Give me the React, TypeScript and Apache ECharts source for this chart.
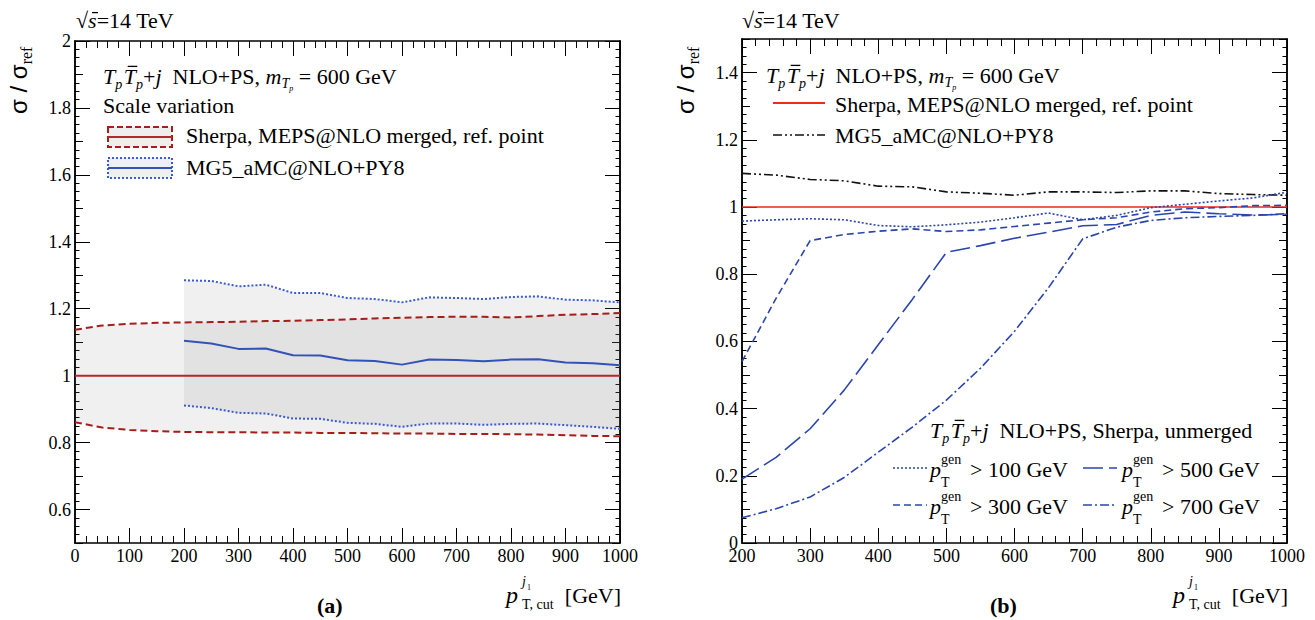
import React, { useEffect, useRef } from 'react';
import * as echarts from 'echarts';

// ---------- data ----------
const SHERPA_X = [0, 50, 100, 150, 200, 250, 300, 350, 400, 450, 500, 550, 600, 650, 700, 750, 800, 850, 900, 950, 1000];
const SHERPA_UP = [1.137, 1.150, 1.155, 1.158, 1.159, 1.160, 1.161, 1.163, 1.164, 1.166, 1.168, 1.171, 1.173, 1.175, 1.176, 1.176, 1.174, 1.178, 1.182, 1.184, 1.187];
const SHERPA_LO = [0.861, 0.845, 0.838, 0.834, 0.832, 0.831, 0.831, 0.830, 0.830, 0.829, 0.829, 0.828, 0.827, 0.827, 0.826, 0.826, 0.825, 0.824, 0.822, 0.820, 0.819];
const SHERPA_REF = [1, 1, 1, 1, 1, 1, 1, 1, 1, 1, 1, 1, 1, 1, 1, 1, 1, 1, 1, 1, 1];

const MG_X = [200, 250, 300, 350, 400, 450, 500, 550, 600, 650, 700, 750, 800, 850, 900, 950, 1000];
const MG_UP = [1.285, 1.283, 1.267, 1.272, 1.247, 1.247, 1.232, 1.229, 1.219, 1.234, 1.232, 1.229, 1.235, 1.237, 1.227, 1.225, 1.219];
const MG_MID = [1.104, 1.096, 1.080, 1.081, 1.061, 1.060, 1.046, 1.044, 1.033, 1.048, 1.047, 1.043, 1.048, 1.049, 1.039, 1.037, 1.031];
const MG_LO = [0.911, 0.903, 0.889, 0.887, 0.872, 0.871, 0.859, 0.856, 0.847, 0.857, 0.857, 0.853, 0.856, 0.857, 0.852, 0.847, 0.841];

const R_X = [200, 250, 300, 350, 400, 450, 500, 550, 600, 650, 700, 750, 800, 850, 900, 950, 1000];
const R_SHERPA = [1, 1, 1, 1, 1, 1, 1, 1, 1, 1, 1, 1, 1, 1, 1, 1, 1];
const R_MG5 = [1.100, 1.095, 1.082, 1.078, 1.062, 1.060, 1.045, 1.041, 1.035, 1.045, 1.045, 1.043, 1.048, 1.048, 1.040, 1.037, 1.035];
const R_PT100 = [0.958, 0.962, 0.965, 0.962, 0.945, 0.941, 0.947, 0.955, 0.968, 0.982, 0.962, 0.975, 0.998, 1.008, 1.018, 1.027, 1.044];
const R_PT300 = [0.540, 0.728, 0.900, 0.918, 0.928, 0.935, 0.927, 0.932, 0.942, 0.952, 0.962, 0.968, 0.985, 0.995, 0.998, 1.004, 1.005];
const R_PT500 = [0.190, 0.255, 0.340, 0.455, 0.590, 0.725, 0.865, 0.885, 0.907, 0.925, 0.944, 0.948, 0.975, 0.985, 0.980, 0.976, 0.978];
const R_PT700 = [0.075, 0.102, 0.137, 0.195, 0.270, 0.345, 0.425, 0.520, 0.630, 0.760, 0.905, 0.940, 0.960, 0.968, 0.972, 0.975, 0.980];

const LEFT_Y_LABELS = [0.6, 0.8, 1.0, 1.2, 1.4, 1.6, 1.8, 2.0];
const RIGHT_Y_LABELS = [0, 0.2, 0.4, 0.6, 0.8, 1.0, 1.2, 1.4];

// ---------- styles ----------
const SERIF = 'Liberation Serif';
const SANS = 'Liberation Sans';
const BLACK = '#000000';
const RED_DASH = '#a61e1a';
const RED_MID = '#b3282a';
const RED_R = '#f0281e';
const BLUE_MID = '#3352b8';
const BLUE_DOT = '#3b5bd0';
const BLUE_R = '#2a45ad';
const BAND = 'rgba(128,128,128,0.12)';

const DASH_100 = [2, 2];
const DASH_300 = [7, 4];
const DASH_500 = [20, 6];
const DASH_700 = [9, 3, 2, 3];
const DASH_MG5 = [9, 3, 2, 3, 2, 3];

let measureCtx: CanvasRenderingContext2D | null = null;
function measure(text: string, font: string): number {
  if (!measureCtx) measureCtx = document.createElement('canvas').getContext('2d');
  measureCtx!.font = font;
  return measureCtx!.measureText(text).width;
}

type Seg = { t: string; s?: number; it?: boolean; bold?: boolean; f?: string; dy?: number; bar?: number; abs?: number; noAdv?: boolean; c?: string };
function run(x0: number, base: number, segs: Seg[], color = BLACK): any[] {
  const out: any[] = [];
  let x = x0;
  for (const g of segs) {
    const s = g.s ?? 22;
    const f = g.f ?? SERIF;
    const fs = g.it ? 'italic' : 'normal';
    const fw = g.bold ? 'bold' : 'normal';
    const w = measure(g.t, `${fs} ${fw} ${s}px "${f}"`);
    const bx = g.abs ?? x;
    const by = base + (g.dy ?? 0);
    out.push({
      type: 'text', x: bx, y: by - 0.34 * s, silent: true,
      style: { text: g.t, fontSize: s, fontFamily: f, fontStyle: fs, fontWeight: fw, fill: g.c ?? color, align: 'left', verticalAlign: 'middle' },
    });
    if (g.bar) {
      out.push({ type: 'line', silent: true, shape: { x1: bx + 0.18 * s, y1: by - g.bar * s, x2: bx + w + 0.06 * s, y2: by - g.bar * s }, style: { stroke: g.c ?? color, lineWidth: 1.3 } });
    }
    if (!g.noAdv) x = bx + w;
  }
  return out;
}

const TT: Seg[] = [
  { t: 'T', it: true }, { t: 'p', it: true, s: 14, dy: 5 }, { t: ' ', s: 6 },
  { t: 'T', it: true, bar: 0.8 }, { t: 'p', it: true, s: 14, dy: 5 }, { t: '+' }, { t: 'j', it: true },
];

function sqrtS(x: number, base: number) {
  return run(x, base, [{ t: '√' }, { t: 's', it: true, bar: 0.7 }, { t: '=14 TeV' }]);
}

function title600(x: number, base: number) {
  return run(x, base, [...TT, { t: '  NLO+PS, ' }, { t: 'm', it: true }, { t: 'T', it: true, s: 14, dy: 4 }, { t: 'p', it: true, s: 8, dy: 7 }, { t: ' = 600 GeV' }]);
}

function yTitle(x: number, y: number) {
  return {
    type: 'group', x, y, rotation: Math.PI / 2, silent: true,
    children: run(0, 0, [{ t: 'σ / σ', s: 24, f: SANS }, { t: 'ref', s: 16, dy: 5 }]),
  };
}

function xTitle(R: number) {
  const gevW = measure(' [GeV]', `normal normal 22px "${SERIF}"`);
  const px = R - 114;
  return [
    ...run(px, 603, [{ t: 'p', it: true, s: 24 }]),
    ...run(px + 16, 586, [{ t: 'j', it: true, s: 14 }]),
    ...run(px + 21, 590, [{ t: '1', s: 8 }]),
    ...run(px + 16, 609, [{ t: 'T, cut', s: 14 }]),
    ...run(R + 1 - gevW, 603, [{ t: ' [GeV]' }]),
  ];
}

function ptLabel(x: number, base: number, val: string) {
  return run(x, base, [
    { t: 'p', it: true }, { t: 'gen', s: 14, dy: -12.5, noAdv: true }, { t: 'T', s: 14, dy: 10 },
    { t: `> ${val} GeV`, abs: x + 40 },
  ]);
}

function hline(x1: number, x2: number, y: number, color: string, width: number, dash?: number[]) {
  return { type: 'line', silent: true, shape: { x1, y1: y, x2, y2: y }, style: { stroke: color, lineWidth: width, lineDash: dash ?? null } };
}

// ---------- axes ----------
function xAxes(grid: number, min: number, max: number) {
  const common = {
    type: 'value', gridIndex: grid, min, max, interval: 100,
    splitLine: { show: false }, minorSplitLine: { show: false },
    axisLine: { show: true, onZero: false, lineStyle: { color: BLACK, width: 1.5 } },
    axisTick: { show: true, inside: true, length: 15, lineStyle: { color: BLACK, width: 1 } },
    minorTick: { show: true, splitNumber: 5, length: 7, lineStyle: { color: BLACK, width: 1 } },
  };
  return [
    { ...common, position: 'bottom', axisLabel: { show: true, color: BLACK, fontFamily: SERIF, fontSize: 18, margin: 4, formatter: (v: number) => String(v) } },
    { ...common, position: 'top', axisLabel: { show: false } },
  ];
}

function yAxes(grid: number, min: number, max: number, labels: number[]) {
  const base = {
    type: 'value', gridIndex: grid, min, max,
    splitLine: { show: false }, minorSplitLine: { show: false },
    axisLine: { show: true, onZero: false, lineStyle: { color: BLACK, width: 1.5 } },
  };
  const main = (pos: string) => ({
    ...base, position: pos, interval: 0.1,
    axisTick: { show: true, inside: true, length: 8, lineStyle: { color: BLACK, width: 1 } },
    minorTick: { show: true, splitNumber: 4, length: 4.5, lineStyle: { color: BLACK, width: 1 } },
    axisLabel: { show: false },
  });
  const major = (pos: string, show: boolean) => ({
    ...base, position: pos,
    axisTick: { show: true, inside: true, length: 15, customValues: labels, lineStyle: { color: BLACK, width: 1 } },
    axisLabel: { show, customValues: labels, color: BLACK, fontFamily: SERIF, fontSize: 18, margin: 4, formatter: (v: number) => String(Math.round(v * 10) / 10) },
  });
  return [main('left'), major('left', true), main('right'), major('right', false)];
}

// ---------- series ----------
function band(xs: number[], up: number[], lo: number[], xi: number, yi: number, fill: string) {
  return {
    type: 'custom', coordinateSystem: 'cartesian2d', xAxisIndex: xi, yAxisIndex: yi, silent: true, z: 1,
    data: [[xs[0], up[0]]],
    renderItem: (_p: any, api: any) => {
      const top = xs.map((x, i) => api.coord([x, up[i]]));
      const bot = xs.map((x, i) => api.coord([x, lo[i]])).reverse();
      return { type: 'polygon', shape: { points: top.concat(bot) }, style: { fill } };
    },
  };
}

function line(xs: number[], ys: number[], xi: number, yi: number, color: string, width: number, dash?: number[], z = 3) {
  return {
    type: 'line', xAxisIndex: xi, yAxisIndex: yi, data: xs.map((x, i) => [x, ys[i]]),
    showSymbol: false, symbol: 'none', silent: true, z, clip: true, smooth: false,
    lineStyle: { color, width, type: dash ?? 'solid', cap: 'butt' },
    emphasis: { disabled: true },
  };
}

export default function App() {
  const ref = useRef<HTMLDivElement>(null);
  useEffect(() => {
    if (!ref.current) return;
    const chart = echarts.init(ref.current, null, { renderer: 'svg' });
    const LR = 620, RR = 1287;
    const graphics: any[] = [
      // left panel
      ...sqrtS(76, 28),
      yTitle(27, 114),
      ...title600(103, 84),
      ...run(103, 113, [{ t: 'Scale variation' }]),
      { type: 'rect', silent: true, shape: { x: 108, y: 127, width: 64, height: 20 }, style: { fill: '#eeeeee', stroke: RED_DASH, lineWidth: 2, lineDash: [6, 3] } },
      hline(108, 172, 137, RED_MID, 2),
      ...run(186, 143, [{ t: 'Sherpa, MEPS@NLO merged, ref. point' }]),
      { type: 'rect', silent: true, shape: { x: 108, y: 158, width: 64, height: 20 }, style: { fill: '#eeeff2', stroke: BLUE_DOT, lineWidth: 2, lineDash: [2, 2] } },
      hline(108, 172, 168, BLUE_MID, 2),
      ...run(186, 175, [{ t: 'MG5_aMC@NLO+PY8' }]),
      ...run(317, 613, [{ t: '(a)', bold: true }]),
      ...xTitle(LR),
      // right panel
      ...sqrtS(742, 28),
      yTitle(694, 114),
      ...title600(766, 83),
      hline(773, 825, 103, RED_R, 2),
      ...run(835, 112, [{ t: 'Sherpa, MEPS@NLO merged, ref. point' }]),
      hline(773, 825, 135, '#111111', 1.6, DASH_MG5),
      ...run(835, 143, [{ t: 'MG5_aMC@NLO+PY8' }]),
      ...run(930, 438, [...TT, { t: '  NLO+PS, Sherpa, unmerged' }]),
      hline(893, 927, 468, BLUE_R, 1.6, DASH_100),
      ...ptLabel(930, 477, '100'),
      hline(1083, 1117, 468, BLUE_R, 1.6, DASH_500),
      ...ptLabel(1122, 477, '500'),
      hline(893, 927, 505, BLUE_R, 1.6, DASH_300),
      ...ptLabel(930, 514, '300'),
      hline(1083, 1117, 505, BLUE_R, 1.6, DASH_700),
      ...ptLabel(1122, 514, '700'),
      ...run(990, 613, [{ t: '(b)', bold: true }]),
      ...xTitle(RR),
    ];

    chart.setOption({
      animation: false,
      backgroundColor: '#ffffff',
      grid: [
        { left: 75, top: 41, width: 545, height: 502, outerBoundsMode: 'none', containLabel: false },
        { left: 742, top: 39, width: 545, height: 504, outerBoundsMode: 'none', containLabel: false },
      ],
      xAxis: [...xAxes(0, 0, 1000), ...xAxes(1, 200, 1000)],
      yAxis: [...yAxes(0, 0.5, 2.0, LEFT_Y_LABELS), ...yAxes(1, 0, 1.5, RIGHT_Y_LABELS)],
      series: [
        band(SHERPA_X, SHERPA_UP, SHERPA_LO, 0, 0, BAND),
        band(MG_X, MG_UP, MG_LO, 0, 0, BAND),
        line(SHERPA_X, SHERPA_UP, 0, 0, RED_DASH, 2, [7, 4]),
        line(SHERPA_X, SHERPA_LO, 0, 0, RED_DASH, 2, [7, 4]),
        line(MG_X, MG_UP, 0, 0, BLUE_DOT, 2, [2, 2]),
        line(MG_X, MG_LO, 0, 0, BLUE_DOT, 2, [2, 2]),
        line(SHERPA_X, SHERPA_REF, 0, 0, RED_MID, 2),
        line(MG_X, MG_MID, 0, 0, BLUE_MID, 2),
        line(R_X, R_SHERPA, 2, 4, RED_R, 1.6),
        line(R_X, R_MG5, 2, 4, '#111111', 1.6, DASH_MG5),
        line(R_X, R_PT100, 2, 4, BLUE_R, 1.6, DASH_100),
        line(R_X, R_PT300, 2, 4, BLUE_R, 1.6, DASH_300),
        line(R_X, R_PT500, 2, 4, BLUE_R, 1.6, DASH_500),
        line(R_X, R_PT700, 2, 4, BLUE_R, 1.6, DASH_700),
      ],
      graphic: graphics,
    });
    return () => chart.dispose();
  }, []);
  return <div ref={ref} style={{ position: 'fixed', left: 0, top: 0, width: 1315, height: 620, background: '#fff' }} />;
}
